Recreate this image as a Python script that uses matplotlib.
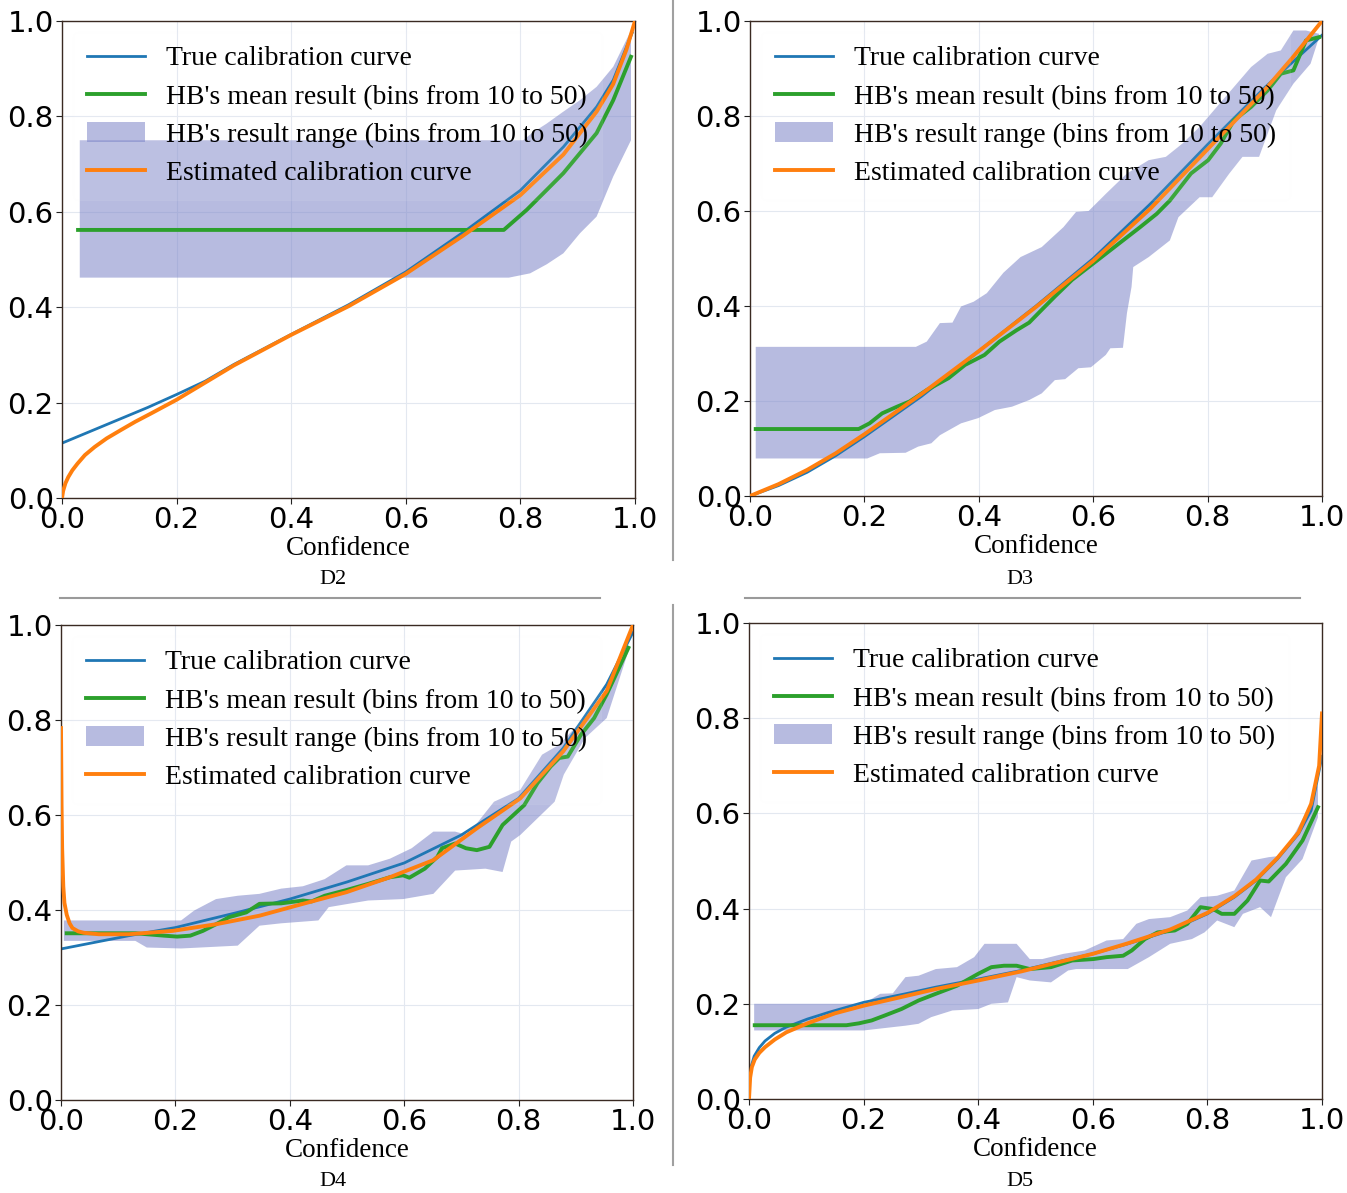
import matplotlib
matplotlib.use("Agg")
import matplotlib.pyplot as plt
import numpy as np
from matplotlib.lines import Line2D

# ---------------- D2 ----------------
d2_true_x = [0, 0.05, 0.1, 0.15, 0.2, 0.25, 0.3, 0.4, 0.5, 0.6, 0.706, 0.8, 0.875, 0.933, 0.962, 0.995]
d2_true_y = [0.115, 0.14, 0.165, 0.19, 0.217, 0.245, 0.28, 0.343, 0.405, 0.474, 0.562, 0.645, 0.736, 0.820, 0.876, 0.975]
d2_est_x = [0, 0.002, 0.006, 0.011, 0.018, 0.027, 0.04, 0.057, 0.078, 0.102, 0.128, 0.155, 0.2, 0.25, 0.3, 0.4,
            0.5, 0.6, 0.7, 0.8, 0.875, 0.933, 0.962, 0.985, 1.0]
d2_est_y = [0, 0.015, 0.031, 0.044, 0.058, 0.072, 0.09, 0.107, 0.125, 0.142, 0.16, 0.177, 0.206, 0.242, 0.278,
            0.342, 0.402, 0.47, 0.55, 0.635, 0.72, 0.81, 0.868, 0.94, 1.0]
d2_hb_x = [0.028, 0.771, 0.811, 0.846, 0.875, 0.904, 0.933, 0.962, 0.993]
d2_hb_y = [0.562, 0.562, 0.604, 0.646, 0.681, 0.723, 0.765, 0.834, 0.925]
d2_up_x = [0.031, 0.805, 0.82, 0.846, 0.875, 0.904, 0.933, 0.962, 0.993]
d2_up_y = [0.75, 0.75, 0.765, 0.785, 0.81, 0.834, 0.862, 0.904, 0.98]
d2_lo_x = [0.031, 0.78, 0.817, 0.846, 0.875, 0.904, 0.933, 0.962, 0.993]
d2_lo_y = [0.462, 0.462, 0.471, 0.49, 0.513, 0.555, 0.59, 0.674, 0.75]

# ---------------- D3 ----------------
d3_true_x = [0, 0.05, 0.1, 0.15, 0.2, 0.3, 0.4, 0.5, 0.6, 0.7, 0.8, 0.9, 1.0]
d3_true_y = [0, 0.022, 0.05, 0.085, 0.125, 0.21, 0.305, 0.40, 0.50, 0.615, 0.74, 0.86, 0.97]
d3_est_x = [0, 0.05, 0.1, 0.15, 0.2, 0.3, 0.4, 0.5, 0.6, 0.7, 0.8, 0.9, 0.95, 1.0]
d3_est_y = [0, 0.025, 0.055, 0.09, 0.13, 0.215, 0.305, 0.398, 0.495, 0.605, 0.73, 0.855, 0.925, 1.0]
d3_hb_x = [0.01, 0.19, 0.209, 0.231, 0.257, 0.279, 0.309, 0.347, 0.376, 0.41, 0.436, 0.466, 0.488, 0.51,
           0.533, 0.563, 0.592, 0.622, 0.652, 0.682, 0.711, 0.734, 0.771, 0.801, 0.823, 0.846, 0.876, 0.905,
           0.928, 0.95, 0.972, 0.995]
d3_hb_y = [0.141, 0.141, 0.153, 0.174, 0.188, 0.199, 0.223, 0.248, 0.276, 0.297, 0.325, 0.349, 0.365, 0.392,
           0.42, 0.455, 0.482, 0.51, 0.538, 0.566, 0.594, 0.622, 0.679, 0.707, 0.742, 0.791, 0.819, 0.854,
           0.889, 0.896, 0.959, 0.966]
d3_up_x = [0.01, 0.29, 0.309, 0.332, 0.354, 0.369, 0.391, 0.414, 0.443, 0.473, 0.51, 0.548, 0.57, 0.592,
           0.622, 0.659, 0.697, 0.727, 0.756, 0.786, 0.816, 0.846, 0.876, 0.905, 0.928, 0.95, 0.972, 0.995]
d3_up_y = [0.314, 0.314, 0.325, 0.364, 0.365, 0.399, 0.409, 0.427, 0.47, 0.503, 0.524, 0.566, 0.598, 0.6,
           0.636, 0.679, 0.707, 0.714, 0.742, 0.777, 0.819, 0.861, 0.903, 0.931, 0.938, 0.98, 0.98, 0.973]
d3_lo_x = [0.01, 0.205, 0.227, 0.272, 0.294, 0.317, 0.332, 0.369, 0.399, 0.428, 0.458, 0.488, 0.51, 0.533,
           0.551, 0.574, 0.596, 0.622, 0.63, 0.652, 0.659, 0.667, 0.67, 0.697, 0.734, 0.749, 0.786, 0.808,
           0.838, 0.861, 0.89, 0.92, 0.95, 0.98, 0.995]
d3_lo_y = [0.079, 0.079, 0.09, 0.091, 0.104, 0.111, 0.128, 0.153, 0.164, 0.181, 0.188, 0.202, 0.216, 0.244,
           0.246, 0.269, 0.271, 0.297, 0.311, 0.312, 0.385, 0.44, 0.482, 0.503, 0.538, 0.587, 0.629, 0.629,
           0.679, 0.714, 0.714, 0.812, 0.868, 0.91, 0.966]

# ---------------- D4 ----------------
d4_true_x = [0, 0.119, 0.2, 0.309, 0.4, 0.5, 0.6, 0.7, 0.8, 0.878, 0.954, 1.0]
d4_true_y = [0.318, 0.346, 0.363, 0.395, 0.423, 0.459, 0.499, 0.558, 0.635, 0.741, 0.875, 0.985]
d4_est_x = [0, 0.001, 0.002, 0.004, 0.006, 0.01, 0.015, 0.02, 0.03, 0.04, 0.066, 0.119, 0.195, 0.271, 0.347,
            0.423, 0.499, 0.575, 0.651, 0.727, 0.803, 0.878, 0.954, 1.0]
d4_est_y = [0.783, 0.62, 0.53, 0.45, 0.415, 0.39, 0.372, 0.362, 0.355, 0.352, 0.349, 0.349, 0.356, 0.37,
            0.388, 0.413, 0.4375, 0.469, 0.505, 0.572, 0.635, 0.734, 0.861, 1.0]
d4_hb_x = [0.01, 0.13, 0.18, 0.203, 0.226, 0.248, 0.271, 0.294, 0.324, 0.347, 0.385, 0.423, 0.438, 0.461,
           0.499, 0.537, 0.575, 0.598, 0.609, 0.636, 0.658, 0.666, 0.689, 0.708, 0.727, 0.749, 0.772, 0.81,
           0.833, 0.856, 0.871, 0.886, 0.909, 0.932, 0.954, 0.992]
d4_hb_y = [0.351, 0.351, 0.346, 0.344, 0.346, 0.356, 0.37, 0.385, 0.395, 0.413, 0.414, 0.42, 0.418, 0.43,
           0.442, 0.455, 0.469, 0.473, 0.468, 0.487, 0.512, 0.530, 0.540, 0.530, 0.526, 0.533, 0.579, 0.621,
           0.667, 0.702, 0.720, 0.723, 0.769, 0.804, 0.854, 0.952]
d4_up_x = [0.005, 0.21, 0.233, 0.271, 0.309, 0.347, 0.385, 0.423, 0.461, 0.499, 0.537, 0.575, 0.613, 0.651,
           0.689, 0.711, 0.734, 0.757, 0.803, 0.841, 0.871, 0.909, 0.939, 0.97, 0.992]
d4_up_y = [0.378, 0.378, 0.399, 0.423, 0.43, 0.434, 0.445, 0.45, 0.465, 0.494, 0.494, 0.508, 0.53, 0.565,
           0.565, 0.558, 0.593, 0.628, 0.653, 0.727, 0.748, 0.797, 0.832, 0.896, 0.945]
d4_lo_x = [0.005, 0.13, 0.15, 0.21, 0.309, 0.347, 0.385, 0.45, 0.468, 0.537, 0.598, 0.651, 0.689, 0.742,
           0.772, 0.787, 0.803, 0.833, 0.863, 0.879, 0.916, 0.954, 0.992]
d4_lo_y = [0.335, 0.335, 0.321, 0.319, 0.325, 0.367, 0.372, 0.378, 0.406, 0.42, 0.423, 0.434, 0.483, 0.487,
           0.48, 0.544, 0.558, 0.593, 0.628, 0.685, 0.762, 0.804, 0.945]

# ---------------- D5 ----------------
d5_true_x = [0, 0.003, 0.009, 0.018, 0.028, 0.045, 0.065, 0.102, 0.139, 0.2, 0.273, 0.326, 0.4, 0.475, 0.549,
             0.6, 0.661, 0.735, 0.8, 0.847, 0.885, 0.922, 0.959, 0.981, 1.0]
d5_true_y = [0.035, 0.065, 0.09, 0.108, 0.122, 0.138, 0.151, 0.168, 0.182, 0.203, 0.221, 0.235, 0.252, 0.27,
             0.291, 0.305, 0.326, 0.354, 0.389, 0.424, 0.459, 0.504, 0.557, 0.606, 0.72]
d5_est_x = [0, 0.002, 0.005, 0.01, 0.018, 0.028, 0.045, 0.065, 0.102, 0.15, 0.2, 0.326, 0.4, 0.475, 0.549,
            0.6, 0.661, 0.735, 0.8, 0.847, 0.885, 0.922, 0.959, 0.981, 0.995, 1.0]
d5_est_y = [0, 0.045, 0.067, 0.083, 0.097, 0.109, 0.125, 0.14, 0.159, 0.18, 0.196, 0.231, 0.249, 0.268, 0.29,
            0.305, 0.327, 0.356, 0.391, 0.426, 0.461, 0.506, 0.56, 0.62, 0.7, 0.81]
d5_hb_x = [0.01, 0.17, 0.192, 0.214, 0.236, 0.266, 0.296, 0.326, 0.363, 0.4, 0.423, 0.445, 0.467, 0.49,
           0.527, 0.564, 0.601, 0.624, 0.653, 0.668, 0.691, 0.713, 0.743, 0.765, 0.788, 0.81, 0.825, 0.847,
           0.87, 0.892, 0.907, 0.937, 0.966, 0.993]
d5_hb_y = [0.155, 0.155, 0.159, 0.165, 0.175, 0.189, 0.207, 0.221, 0.238, 0.263, 0.277, 0.28, 0.28, 0.273,
           0.277, 0.291, 0.294, 0.298, 0.301, 0.312, 0.336, 0.35, 0.354, 0.368, 0.403, 0.399, 0.389, 0.389,
           0.417, 0.459, 0.457, 0.494, 0.543, 0.613]
d5_up_x = [0.009, 0.2, 0.229, 0.251, 0.273, 0.296, 0.326, 0.363, 0.393, 0.411, 0.467, 0.49, 0.512, 0.549,
           0.586, 0.624, 0.653, 0.676, 0.698, 0.735, 0.765, 0.788, 0.817, 0.847, 0.877, 0.907, 0.929, 0.952,
           0.974, 0.993]
d5_up_y = [0.2, 0.2, 0.221, 0.222, 0.256, 0.259, 0.273, 0.277, 0.298, 0.326, 0.326, 0.294, 0.294, 0.305,
           0.312, 0.333, 0.336, 0.368, 0.378, 0.382, 0.396, 0.424, 0.427, 0.438, 0.501, 0.508, 0.511, 0.557,
           0.606, 0.66]
d5_lo_x = [0.009, 0.2, 0.251, 0.273, 0.296, 0.318, 0.355, 0.4, 0.423, 0.452, 0.467, 0.49, 0.527, 0.557,
           0.571, 0.661, 0.698, 0.735, 0.773, 0.795, 0.817, 0.847, 0.862, 0.892, 0.911, 0.937, 0.966, 0.993]
d5_lo_y = [0.144, 0.144, 0.151, 0.154, 0.158, 0.172, 0.186, 0.189, 0.2, 0.203, 0.256, 0.249, 0.245, 0.27,
           0.273, 0.273, 0.298, 0.326, 0.336, 0.35, 0.375, 0.361, 0.389, 0.403, 0.382, 0.466, 0.504, 0.592]

panels = [
    ("D2", (d2_true_x, d2_true_y), (d2_hb_x, d2_hb_y), (d2_up_x, d2_up_y), (d2_lo_x, d2_lo_y), (d2_est_x, d2_est_y)),
    ("D3", (d3_true_x, d3_true_y), (d3_hb_x, d3_hb_y), (d3_up_x, d3_up_y), (d3_lo_x, d3_lo_y), (d3_est_x, d3_est_y)),
    ("D4", (d4_true_x, d4_true_y), (d4_hb_x, d4_hb_y), (d4_up_x, d4_up_y), (d4_lo_x, d4_lo_y), (d4_est_x, d4_est_y)),
    ("D5", (d5_true_x, d5_true_y), (d5_hb_x, d5_hb_y), (d5_up_x, d5_up_y), (d5_lo_x, d5_lo_y), (d5_est_x, d5_est_y)),
]
labels = ["True calibration curve", "HB's mean result (bins from 10 to 50)",
          "HB's result range (bins from 10 to 50)", "Estimated calibration curve"]
ticks = [0.0, 0.2, 0.4, 0.6, 0.8, 1.0]
tick_labels = ["0.0", "0.2", "0.4", "0.6", "0.8", "1.0"]

W, H = 1347, 1193
# pixel boxes (left, right, top, bottom)
boxes = [(62, 635, 21, 498), (750, 1322, 21, 496), (61, 633, 625, 1100), (749, 1322, 623, 1099)]
caption_pos = [(333, 579), (1020, 579), (333, 1181), (1020, 1181)]

SERIF = ["Liberation Serif", "DejaVu Serif"]
BLUE, GREEN, ORANGE = "#1f77b4", "#2ca02c", "#ff7f0e"
BAND = "#7c84c8"

fig = plt.figure(figsize=(W / 100, H / 100), dpi=100)

for (name, tru, hb, up, lo, est), (l, r, t, b), (cx, cy) in zip(panels, boxes, caption_pos):
    ax = fig.add_axes([l / W, 1 - b / H, (r - l) / W, (b - t) / H])
    poly_x = list(up[0]) + list(lo[0])[::-1]
    poly_y = list(up[1]) + list(lo[1])[::-1]
    band = ax.fill(poly_x, poly_y, color=BAND, alpha=0.55, lw=0, zorder=1)[0]
    lb, = ax.plot(tru[0], tru[1], color=BLUE, lw=2.0, zorder=2)
    lg, = ax.plot(hb[0], hb[1], color=GREEN, lw=2.8, zorder=3)
    lo_, = ax.plot(est[0], est[1], color=ORANGE, lw=2.8, zorder=4)
    ax.set_xlim(0, 1)
    ax.set_ylim(0, 1)
    ax.set_xticks(ticks)
    ax.set_xticklabels(tick_labels)
    ax.set_yticks(ticks)
    ax.set_yticklabels(tick_labels)
    ax.tick_params(labelsize=21, length=4, width=0.8, pad=2, colors="#222222", labelcolor="black")
    ax.grid(True, color="#e3e8f0", lw=0.8)
    ax.set_axisbelow(True)
    for s in ax.spines.values():
        s.set_color("#3a2a22")
        s.set_linewidth(1.0)
    ax.set_xlabel("Confidence", family=SERIF, fontsize=19.5, labelpad=1)
    leg = ax.legend([lb, lg, band, lo_], labels, loc="upper left", prop={"family": SERIF, "size": 20},
                    handlelength=2.1, handletextpad=0.75, labelspacing=0.46, borderpad=0.5,
                    borderaxespad=0.4, framealpha=0.08, edgecolor="#f3f3f3", fancybox=True)
    fig.text(cx / W, 1 - cy / H, name, family=SERIF, fontsize=16, ha="center", va="center")

# page separators
fig.add_artist(Line2D([60 / W, 600 / W], [1 - 598 / H, 1 - 598 / H], color="#9a9a9a", lw=1.5))
fig.add_artist(Line2D([745 / W, 1300 / W], [1 - 598 / H, 1 - 598 / H], color="#9a9a9a", lw=1.5))
fig.add_artist(Line2D([673 / W, 673 / W], [1 - 0 / H, 1 - 560 / H], color="#a0a0a0", lw=1.5))
fig.add_artist(Line2D([673 / W, 673 / W], [1 - 605 / H, 1 - 1165 / H], color="#a0a0a0", lw=1.5))

fig.savefig("out.png", dpi=100, facecolor="white")
